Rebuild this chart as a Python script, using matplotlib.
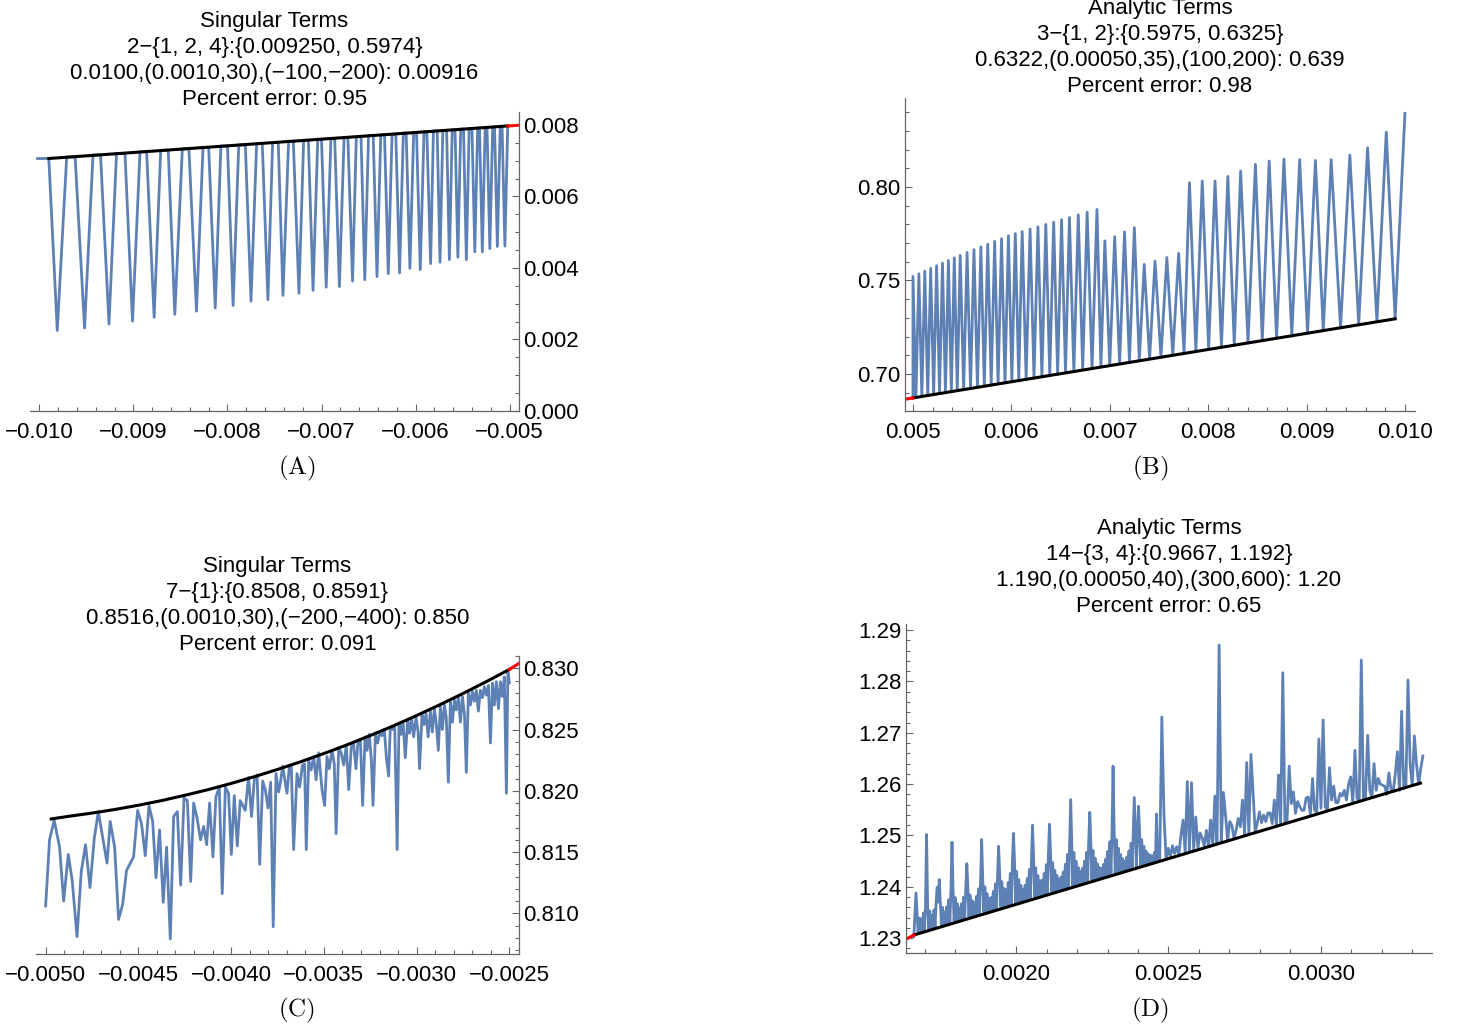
import numpy as np
import matplotlib
matplotlib.use('Agg')
import matplotlib.pyplot as plt
from matplotlib.ticker import MultipleLocator, FixedLocator, FuncFormatter

plt.rcParams['font.family'] = ['Liberation Sans', 'DejaVu Sans']
plt.rcParams['mathtext.fontset'] = 'cm'

BLUE = '#5e81b5'
AXC = '#666666'
W, H = 1457, 1027

# ---------------- panel A : singular terms, 2-{1,2,4}
a_start_x = [-0.01002, -0.00990]
a_start_y = [0.00706, 0.00706]
a_trough_x = [-0.00981, -0.00952, -0.00926, -0.00901, -0.00878, -0.00856, -0.00833, -0.00813,
              -0.00794, -0.00775, -0.00757, -0.00741, -0.00724, -0.00709, -0.00695, -0.00681,
              -0.00667, -0.00654, -0.00641, -0.00629, -0.00617, -0.00606, -0.00595, -0.00584,
              -0.00574, -0.00564, -0.00555, -0.00546, -0.00537, -0.00529, -0.00521, -0.00513,
              -0.00505]
a_trough_y = [0.00225, 0.00232, 0.00243, 0.00251, 0.00262, 0.00270, 0.00279, 0.00288,
              0.00295, 0.00307, 0.00311, 0.00323, 0.00329, 0.00337, 0.00346, 0.00348,
              0.00363, 0.00367, 0.00376, 0.00384, 0.00386, 0.00399, 0.00395, 0.00412,
              0.00416, 0.00423, 0.00430, 0.00423, 0.00445, 0.00445, 0.00454, 0.00460,
              0.00461]
a_top_x1 = [-0.00971, -0.00943, -0.00918, -0.00893, -0.00871, -0.00848, -0.00826, -0.00807,
            -0.00788, -0.00769, -0.00752, -0.00735, -0.00719, -0.00704, -0.00690, -0.00676,
            -0.00663, -0.00650, -0.00637, -0.00625, -0.00613, -0.00602, -0.00591, -0.00581,
            -0.00571, -0.00561, -0.00552, -0.00543, -0.00534, -0.00526, -0.00518, -0.00510]
a_top_x2 = [-0.00962, -0.00935, -0.00909, -0.00886, -0.00863, -0.00841, -0.00820, -0.00800,
            -0.00781, -0.00763, -0.00746, -0.00730, -0.00714, -0.00700, -0.00686, -0.00672,
            -0.00658, -0.00645, -0.00633, -0.00621, -0.00610, -0.00599, -0.00588, -0.00577,
            -0.00567, -0.00558, -0.00549, -0.00540, -0.00532, -0.00524, -0.00516, -0.00508]
a_top_y = [0.00710, 0.00716, 0.00720, 0.00725, 0.00729, 0.00733, 0.00737, 0.00741,
           0.00744, 0.00748, 0.00751, 0.00754, 0.00757, 0.00760, 0.00762, 0.00765,
           0.00767, 0.00770, 0.00772, 0.00774, 0.00777, 0.00779, 0.00781, 0.00783,
           0.00784, 0.00786, 0.00788, 0.00790, 0.00791, 0.00793, 0.00794, 0.00796]
a_end = (-0.00502, 0.00797)
a_env_x = [-0.00990, -0.00502]
a_env_y = [0.00706, 0.00797]
a_red_x = [-0.00502, -0.00490]
a_red_y = [0.00797, 0.00799]

# ---------------- panel B : analytic terms, 3-{1,2}
b_start = (0.00500, 0.6872)
b_top_x = [0.00500, 0.00506, 0.00512, 0.00518, 0.00524, 0.00530, 0.00536, 0.00542, 0.00548,
           0.00555, 0.00562, 0.00569, 0.00576, 0.00583, 0.00590, 0.00597, 0.00604, 0.00611,
           0.00619, 0.00627, 0.00635, 0.00643, 0.00651, 0.00659, 0.00668, 0.00677, 0.00687,
           0.00695, 0.00705, 0.00715, 0.00725, 0.00735, 0.00746, 0.00758, 0.00770,
           0.00781, 0.00794, 0.00807, 0.00820, 0.00833, 0.00848, 0.00862, 0.00877,
           0.00893, 0.00909, 0.00925, 0.00944, 0.00962, 0.00981]
b_top_y = [0.7522, 0.7536, 0.7550, 0.7565, 0.7579, 0.7593, 0.7607, 0.7621, 0.7634,
           0.7650, 0.7665, 0.7680, 0.7694, 0.7709, 0.7724, 0.7739, 0.7751, 0.7762,
           0.7775, 0.7787, 0.7800, 0.7812, 0.7825, 0.7837, 0.7851, 0.7865, 0.7880,
           0.7712, 0.7734, 0.7760, 0.7783, 0.7586, 0.7604, 0.7623, 0.7645,
           0.8023, 0.8032, 0.8032, 0.8057, 0.8085, 0.8121, 0.8139, 0.8149,
           0.8146, 0.8142, 0.8146, 0.8171, 0.8210, 0.8293]
b_bot_x = [0.00503, 0.00509, 0.00515, 0.00521, 0.00527, 0.00533, 0.00539, 0.00545, 0.005515,
           0.005585, 0.005655, 0.005725, 0.005795, 0.005865, 0.005935, 0.006005, 0.006075,
           0.00615, 0.00623, 0.00631, 0.00639, 0.00647, 0.00655, 0.006635, 0.006725, 0.00682,
           0.00691, 0.00700, 0.00710, 0.00720, 0.00730, 0.007405, 0.00752, 0.00764,
           0.007755, 0.007875, 0.008005, 0.008135, 0.008265, 0.008405, 0.00855, 0.008695,
           0.00885, 0.00901, 0.00917, 0.009345, 0.00953, 0.009715, 0.00990]
b_bot_y = [0.6875, 0.6880, 0.6885, 0.6890, 0.6895, 0.6900, 0.6906, 0.6911, 0.6916,
           0.6922, 0.6929, 0.6935, 0.6941, 0.6947, 0.6953, 0.6959, 0.6965,
           0.6971, 0.6978, 0.6985, 0.6992, 0.6999, 0.7006, 0.7013, 0.7021, 0.7029,
           0.7037, 0.7045, 0.7053, 0.7062, 0.7071, 0.7080, 0.7090, 0.7100,
           0.7110, 0.7120, 0.7131, 0.7143, 0.7154, 0.7166, 0.7178, 0.7191,
           0.7204, 0.7218, 0.7232, 0.7247, 0.7263, 0.7279, 0.7295]
b_end = (0.01000, 0.8394)
b_env_x = [0.00500, 0.00990]
b_env_y = [0.6872, 0.7295]
b_red_x = [0.004919, 0.00500]
b_red_y = [0.6865, 0.6872]

# ---------------- panel C : singular terms, 7-{1}
c_x = [-0.005000, -0.004979, -0.004954, -0.004925, -0.004903, -0.004878, -0.004857, -0.004831,
       -0.004808, -0.004785, -0.004761, -0.004738, -0.004716, -0.004669, -0.004652, -0.004628,
       -0.004607, -0.004585, -0.004564, -0.004526, -0.004504, -0.004483, -0.004463, -0.004443,
       -0.004423, -0.004405, -0.004386, -0.004366, -0.004348, -0.004328, -0.004310, -0.004290,
       -0.004272, -0.004254, -0.004236, -0.004218, -0.004202, -0.004184, -0.004165, -0.004148,
       -0.004132, -0.004116, -0.004098, -0.004082, -0.004064, -0.004048, -0.004031, -0.004014,
       -0.003999, -0.003983, -0.003967, -0.003951, -0.003924, -0.003906, -0.003890, -0.003875,
       -0.003860, -0.003846, -0.003830, -0.003816, -0.003801, -0.003787, -0.003773, -0.003758,
       -0.003744,
       -0.003735, -0.003722, -0.003699, -0.003686, -0.003676, -0.003663, -0.003645, -0.003631,
       -0.003615, -0.003604, -0.003595, -0.003582, -0.003569, -0.003555, -0.003542, -0.003528,
       -0.003510, -0.003496, -0.003483, -0.003471, -0.003456, -0.003444, -0.003434, -0.003420,
       -0.003407, -0.003393, -0.003379, -0.003366, -0.003352, -0.003340, -0.003327, -0.003316,
       -0.003303, -0.003291, -0.003278, -0.003267, -0.003255, -0.003244, -0.003235, -0.003222,
       -0.003210, -0.003199, -0.003186, -0.003174, -0.003163, -0.003151, -0.003142, -0.003129,
       -0.003118, -0.003105, -0.003095, -0.003084, -0.003073, -0.003061, -0.003048, -0.003038,
       -0.003027, -0.003016, -0.003003, -0.002992, -0.002984, -0.002971, -0.002960, -0.002949,
       -0.002938, -0.002926, -0.002915, -0.002904, -0.002894, -0.002883, -0.002872, -0.002861,
       -0.002850, -0.002840, -0.002829, -0.002818, -0.002807, -0.002796, -0.002786, -0.002775,
       -0.002764, -0.002753, -0.002742, -0.002732, -0.002721, -0.002710, -0.002699, -0.002689,
       -0.002678, -0.002667, -0.002656, -0.002645, -0.002635, -0.002624, -0.002613, -0.002602,
       -0.002591, -0.002581, -0.002570, -0.002559, -0.002548, -0.002538, -0.002527, -0.002516,
       -0.002508, -0.002500]
c_y = [0.8106, 0.8160, 0.8176, 0.8154, 0.8110, 0.8148, 0.8127, 0.8081, 0.8134, 0.8156,
       0.8121, 0.8161, 0.8183, 0.8141, 0.8175, 0.8154, 0.8095, 0.8107, 0.8135, 0.8146,
       0.8184, 0.8173, 0.8147, 0.8188, 0.8175, 0.8129, 0.8168, 0.8109, 0.8154, 0.8079,
       0.8179, 0.8183, 0.8123, 0.8194, 0.8192, 0.8126, 0.8190, 0.8178, 0.8160, 0.8171,
       0.8156, 0.8190, 0.8146, 0.8195, 0.8203, 0.8116, 0.8203, 0.8198, 0.8148, 0.8196,
       0.8155, 0.8192, 0.8184, 0.8211, 0.8179, 0.8209, 0.8213, 0.8140, 0.8208, 0.8201,
       0.8186, 0.8207, 0.8089, 0.8214, 0.8199,
       0.8206, 0.8220, 0.8198, 0.8220, 0.8221, 0.8152, 0.8214, 0.8203, 0.8221, 0.8222,
       0.8152, 0.8225, 0.8217, 0.8228, 0.8209, 0.8231, 0.8201, 0.8188, 0.8228, 0.8218,
       0.8233, 0.8222, 0.8165, 0.8235, 0.8231, 0.8221, 0.8237, 0.8201, 0.8236, 0.8239,
       0.8218, 0.8240, 0.8241, 0.8188, 0.8244, 0.8233, 0.8246, 0.8225, 0.8188, 0.8247,
       0.8239, 0.8247, 0.8245, 0.8250, 0.8227, 0.8212, 0.8251, 0.8250, 0.8253, 0.8152,
       0.8255, 0.8246, 0.8256, 0.8227, 0.8258, 0.8247, 0.8259, 0.8244, 0.8260, 0.8248,
       0.8218, 0.8262, 0.8254, 0.8263, 0.8244, 0.8265, 0.8248, 0.8267, 0.8255, 0.8233,
       0.8269, 0.8250, 0.8270, 0.8260, 0.8207, 0.8273, 0.8256, 0.8274, 0.8266, 0.8276,
       0.8256, 0.8277, 0.8262, 0.8215, 0.8280, 0.8270, 0.8281, 0.8273, 0.8282, 0.8265,
       0.8282, 0.8276, 0.8285, 0.8278, 0.8286, 0.8239, 0.8288, 0.8270, 0.8289, 0.8267,
       0.8289, 0.8277, 0.8293, 0.8198, 0.8297, 0.8288]
c_env_x = [-0.004970, -0.004875, -0.004750, -0.004625, -0.004500, -0.004375, -0.004250,
           -0.004125, -0.004000, -0.003875, -0.003750, -0.003625, -0.003500, -0.003375,
           -0.003250, -0.003125, -0.003000, -0.002875, -0.002750, -0.002625, -0.002500]
c_env_y = [0.81770, 0.81792, 0.81818, 0.81848, 0.81882, 0.81920, 0.81963,
           0.82009, 0.82060, 0.82115, 0.82174, 0.82237, 0.82304, 0.82375,
           0.82451, 0.82530, 0.82614, 0.82702, 0.82794, 0.82890, 0.82990]
c_red_x = [-0.00250, -0.002448]
c_red_y = [0.8299, 0.8304]

# ---------------- panel D : analytic terms, 14-{3,4}
# left part (fine sampling)
d_left_x0, d_left_x1 = 0.001665, 0.00246425
d_left_y = [1.2303, 1.2347, 1.2388, 1.2348, 1.2312, 1.2339, 1.2313, 1.2338, 1.2314, 1.2349,
            1.2315, 1.2363, 1.2502, 1.2364, 1.2318, 1.2353, 1.2319, 1.2344, 1.2320, 1.2355,
            1.2321, 1.2369, 1.2399, 1.2370, 1.2414, 1.2371, 1.2325, 1.2360, 1.2326, 1.2351,
            1.2328, 1.2361, 1.2329, 1.2375, 1.2330, 1.2393, 1.2487, 1.2394, 1.2333, 1.2379,
            1.2334, 1.2367, 1.2335, 1.2359, 1.2336, 1.2367, 1.2338, 1.2380, 1.2339, 1.2396,
            1.2445, 1.2398, 1.2341, 1.2384, 1.2342, 1.2373, 1.2344, 1.2369, 1.2345, 1.2381,
            1.2346, 1.2396, 1.2347, 1.2415, 1.2492, 1.2416, 1.2350, 1.2400, 1.2351, 1.2387,
            1.2352, 1.2378, 1.2354, 1.2379, 1.2355, 1.2391, 1.2356, 1.2406, 1.2357, 1.2425,
            1.2479, 1.2426, 1.2360, 1.2410, 1.2361, 1.2397, 1.2362, 1.2394, 1.2364, 1.2408,
            1.2365, 1.2426, 1.2366, 1.2449, 1.2504, 1.2450, 1.2368, 1.2430, 1.2370, 1.2414,
            1.2371, 1.2403, 1.2372, 1.2395, 1.2373, 1.2403, 1.2375, 1.2416, 1.2376, 1.2434,
            1.2377, 1.2455, 1.2520, 1.2456, 1.2380, 1.2437, 1.2381, 1.2422, 1.2382, 1.2412,
            1.2383, 1.2413, 1.2385, 1.2426, 1.2386, 1.2443, 1.2387, 1.2465, 1.2522, 1.2466,
            1.2390, 1.2447, 1.2391, 1.2432, 1.2392, 1.2422, 1.2393, 1.2415, 1.2394, 1.2419,
            1.2396, 1.2429, 1.2397, 1.2444, 1.2398, 1.2463, 1.2399, 1.2487, 1.2570, 1.2488,
            1.2402, 1.2467, 1.2403, 1.2450, 1.2404, 1.2438, 1.2406, 1.2430, 1.2407, 1.2436,
            1.2408, 1.2450, 1.2409, 1.2467, 1.2411, 1.2488, 1.2545, 1.2489, 1.2413, 1.2471,
            1.2414, 1.2456, 1.2415, 1.2445, 1.2417, 1.2438, 1.2418, 1.2436, 1.2419, 1.2444,
            1.2420, 1.2454, 1.2422, 1.2469, 1.2423, 1.2488, 1.2424, 1.2512, 1.2635, 1.2513,
            1.2427, 1.2492, 1.2428, 1.2475, 1.2429, 1.2463, 1.2430, 1.2455, 1.2432, 1.2450,
            1.2433, 1.2458, 1.2434, 1.2470, 1.2435, 1.2485, 1.2437, 1.2504, 1.2574, 1.2505,
            1.2439, 1.2507, 1.2557, 1.2508, 1.2442, 1.2492, 1.2443, 1.2479, 1.2444, 1.2470,
            1.2445, 1.2464, 1.2446, 1.2462, 1.2448, 1.2460, 1.2449, 1.2467, 1.2450, 1.2542,
            1.2451]
# right part (coarser sampling)
d_right_x0, d_right_x1 = 0.0024712, 0.003334
d_right_y = [1.2452, 1.2731, 1.2540, 1.2455,
             1.2475, 1.2458, 1.2480, 1.2465, 1.2478, 1.2462, 1.2500, 1.2530,
             1.2466, 1.2605, 1.2470, 1.2603, 1.2472, 1.2536, 1.2475, 1.2505,
             1.2495, 1.2480, 1.2510, 1.2478, 1.2530, 1.2480, 1.2577, 1.2483,
             1.2871, 1.2486, 1.2584, 1.2541, 1.2490, 1.2527, 1.2520, 1.2495,
             1.2510, 1.2533, 1.2517, 1.2569, 1.2500, 1.2642, 1.2502, 1.2658,
             1.2582, 1.2507, 1.2525, 1.2546, 1.2525, 1.2540, 1.2527, 1.2544,
             1.2544, 1.2523, 1.2569, 1.2518, 1.2618, 1.2521, 1.2817, 1.2524,
             1.2526, 1.2635, 1.2562, 1.2585, 1.2543, 1.2566, 1.2556, 1.2549,
             1.2549, 1.2573, 1.2575, 1.2541, 1.2611, 1.2549, 1.2546, 1.2688,
             1.2553, 1.2725, 1.2556, 1.2548, 1.2632, 1.2569, 1.2596, 1.2564,
             1.2564, 1.2582, 1.2577, 1.2588, 1.2569, 1.2600, 1.2614, 1.2562,
             1.2666, 1.2572, 1.2566, 1.2842, 1.2568, 1.2575, 1.2695, 1.2588,
             1.2574, 1.2640, 1.2588, 1.2611, 1.2600, 1.2598, 1.2596, 1.2580,
             1.2622, 1.2590, 1.2585, 1.2620, 1.2663, 1.2588, 1.2742, 1.2592,
             1.2594, 1.2803, 1.2640, 1.2597, 1.2694, 1.2640, 1.2600, 1.2630, 1.2655]
d_env_x = [0.001665, 0.003326]
d_env_y = [1.2306, 1.2602]
d_red_x = [0.0016393, 0.001665]
d_red_y = [1.2298, 1.2306]

titles = {
    'A': ['Singular Terms', '2\u2212{1, 2, 4}:{0.009250, 0.5974}',
          '0.0100,(0.0010,30),(\u2212100,\u2212200): 0.00916', 'Percent error: 0.95'],
    'B': ['Analytic Terms', '3\u2212{1, 2}:{0.5975, 0.6325}',
          '0.6322,(0.00050,35),(100,200): 0.639', 'Percent error: 0.98'],
    'C': ['Singular Terms', '7\u2212{1}:{0.8508, 0.8591}',
          '0.8516,(0.0010,30),(\u2212200,\u2212400): 0.850', 'Percent error: 0.091'],
    'D': ['Analytic Terms', '14\u2212{3, 4}:{0.9667, 1.192}',
          '1.190,(0.00050,40),(300,600): 1.20', 'Percent error: 0.65'],
}


def rect(l, r, t, b):
    return [l / W, 1 - b / H, (r - l) / W, (b - t) / H]


def fmt(nd):
    return FuncFormatter(lambda v, p: f'{v:.{nd}f}'.replace('-', '\u2212'))


def style(ax, yside, xlim, ylim, xt, xminor, yt, yminor, xnd, ynd):
    ax.set_xlim(*xlim)
    ax.set_ylim(*ylim)
    for s in ax.spines.values():
        s.set_visible(False)
    ax.spines['bottom'].set_visible(True)
    ax.spines[yside].set_visible(True)
    for s in ('bottom', yside):
        ax.spines[s].set_color(AXC)
        ax.spines[s].set_linewidth(0.9)
    if yside == 'right':
        ax.yaxis.tick_right()
    ax.xaxis.set_major_locator(FixedLocator(xt))
    ax.xaxis.set_minor_locator(MultipleLocator(xminor))
    ax.yaxis.set_major_locator(FixedLocator(yt))
    ax.yaxis.set_minor_locator(MultipleLocator(yminor))
    ax.xaxis.set_major_formatter(fmt(xnd))
    ax.yaxis.set_major_formatter(fmt(ynd))
    ax.tick_params(which='both', direction='in', color=AXC, width=0.8,
                   labelcolor='black', labelsize=16)
    ax.tick_params(which='major', length=5)
    ax.tick_params(which='minor', length=3)
    ax.tick_params(axis='x', pad=8)
    ax.tick_params(axis='y', pad=3)
    ax.patch.set_alpha(0)


fig = plt.figure(figsize=(W / 100, H / 100), dpi=100)
LW = 2.0

# A
ax = fig.add_axes(rect(30, 519, 112, 411))
xs, ys = list(a_start_x), list(a_start_y)
for k in range(len(a_trough_x)):
    xs.append(a_trough_x[k]); ys.append(a_trough_y[k])
    if k < len(a_top_y):
        xs += [a_top_x1[k], a_top_x2[k]]
        ys += [a_top_y[k], a_top_y[k]]
xs.append(a_end[0]); ys.append(a_end[1])
ax.plot(xs, ys, color=BLUE, lw=LW)
ax.plot(a_env_x, a_env_y, color='black', lw=2.2)
ax.plot(a_red_x, a_red_y, color='red', lw=2.2)
style(ax, 'right', (-0.0101, -0.0049), (0, 0.00836),
      [-0.010, -0.009, -0.008, -0.007, -0.006, -0.005], 0.0002,
      [0.000, 0.002, 0.004, 0.006, 0.008], 0.0005, 3, 3)

# B
ax = fig.add_axes(rect(905, 1415, 98, 411))
xs, ys = [b_start[0]], [b_start[1]]
for k in range(len(b_top_x)):
    xs += [b_top_x[k], b_bot_x[k]]
    ys += [b_top_y[k], b_bot_y[k]]
xs.append(b_end[0]); ys.append(b_end[1])
ax.plot(xs, ys, color=BLUE, lw=LW)
ax.plot(b_env_x, b_env_y, color='black', lw=2.2)
ax.plot(b_red_x, b_red_y, color='red', lw=2.2)
style(ax, 'left', (0.004919, 0.010102), (0.6802, 0.8476),
      [0.005, 0.006, 0.007, 0.008, 0.009, 0.010], 0.0002,
      [0.70, 0.75, 0.80], 0.01, 3, 2)

# C
ax = fig.add_axes(rect(36, 519, 656, 954))
ax.plot(c_x, c_y, color=BLUE, lw=LW)
ax.plot(c_env_x, c_env_y, color='black', lw=2.2)
ax.plot(c_red_x, c_red_y, color='red', lw=2.2)
style(ax, 'right', (-0.005052, -0.002448), (0.80668, 0.8310),
      [-0.0050, -0.0045, -0.0040, -0.0035, -0.0030, -0.0025], 0.0001,
      [0.810, 0.815, 0.820, 0.825, 0.830], 0.001, 4, 3)

# D
ax = fig.add_axes(rect(906, 1432, 624, 953))
d_x = np.concatenate([np.linspace(d_left_x0, d_left_x1, len(d_left_y)),
                      np.linspace(d_right_x0, d_right_x1, len(d_right_y))])
d_y = np.array(d_left_y + d_right_y)
ax.plot(d_x, d_y, color=BLUE, lw=LW)
ax.plot(d_env_x, d_env_y, color='black', lw=2.2)
ax.plot(d_red_x, d_red_y, color='red', lw=2.2)
style(ax, 'left', (0.0016393, 0.003364), (1.2271, 1.2912),
      [0.0020, 0.0025, 0.0030], 0.0001,
      [1.23, 1.24, 1.25, 1.26, 1.27, 1.28, 1.29], 0.002, 4, 2)

# titles and panel letters
title_pos = {'A': (274.5, 27), 'B': (1160, 14), 'C': (277.5, 572), 'D': (1169, 534)}
for key, (cx, base) in title_pos.items():
    for j, line in enumerate(titles[key]):
        fig.text(cx / W, 1 - (base + 26 * j) / H, line, ha='center', va='baseline', fontsize=16)

letters = {'A': (297, 468), 'B': (1150, 468), 'C': (297, 1010), 'D': (1150, 1010)}
for key, (lx, ly) in letters.items():
    fig.text(lx / W, 1 - ly / H, r'$\mathrm{(' + key + r')}$', ha='center', va='center', fontsize=18)

fig.savefig('out.png', dpi=100)
